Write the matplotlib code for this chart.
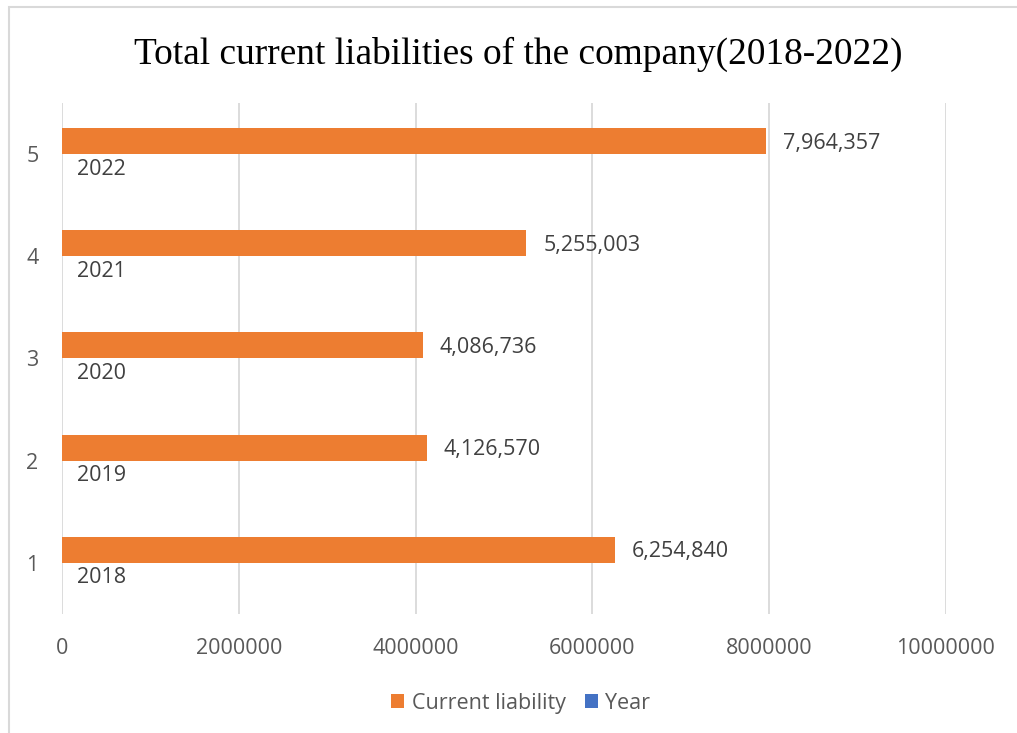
import numpy as np
import matplotlib.pyplot as plt
from matplotlib.patches import Rectangle

# Data
categories = [1, 2, 3, 4, 5]
years = [2018, 2019, 2020, 2021, 2022]
liability = [6254840, 4126570, 4086736, 5255003, 7964357]
xticks = [0, 2000000, 4000000, 6000000, 8000000, 10000000]

orange = '#ED7D31'
blue = '#4472C4'
gray_text = '#595959'
font = 'Open Sans'
fs = 15.5

fig = plt.figure(figsize=(10.17, 7.33), dpi=100)
ax = fig.add_axes([0.061, 0.1624, 0.869, 0.6971])

y = np.array(categories)
h = 0.255
ax.barh(y + h / 2, liability, height=h, color=orange, label='Current liability', zorder=3)
ax.barh(y - h / 2, years, height=h, color=blue, label='Year', zorder=3)

# data labels
for yi, v in zip(y, liability):
    ax.annotate(f'{v:,}', (v, yi + h / 2), xytext=(12, -1.5), textcoords='offset points',
                va='center', ha='left', fontsize=fs, color='#404040', family=font)
for yi, v in zip(y, years):
    ax.annotate(str(v), (v, yi - h / 2), xytext=(11, -1.5), textcoords='offset points',
                va='center', ha='left', fontsize=fs, color='#404040', family=font)

ax.set_xlim(0, 10000000)
ax.set_ylim(0.5, 5.5)
ax.set_xticks(xticks)
ax.set_xticklabels([str(t) for t in xticks], family=font, fontsize=fs, color=gray_text)
ax.set_yticks(categories)
ax.set_yticklabels([str(c) for c in categories], family=font, fontsize=fs, color=gray_text)
ax.tick_params(axis='x', length=0, pad=17)
ax.tick_params(axis='y', length=0, pad=17)
ax.grid(axis='x', color='#D9D9D9', linewidth=1.3, zorder=0)
for s in ax.spines.values():
    s.set_visible(False)

fig.suptitle('Total current liabilities of the company(2018-2022)', family='Liberation Serif',
             fontsize=26.9, x=0.510, y=0.95, color='black')

leg = fig.legend(loc='lower center', bbox_to_anchor=(0.512, 0.0), ncol=2, frameon=False,
                 prop={'family': font, 'size': fs}, handlelength=0.6, handleheight=0.6,
                 columnspacing=0.9, handletextpad=0.35)
for t in leg.get_texts():
    t.set_color(gray_text)

# chart border (only top and left visible in the crop)
fig.patches.append(Rectangle((9 / 1017, -0.1), 1.2, 1.1 - 7 / 733, transform=fig.transFigure,
                             fill=False, edgecolor='#D9D9D9', linewidth=1.5))

fig.savefig('out.png', dpi=100)
